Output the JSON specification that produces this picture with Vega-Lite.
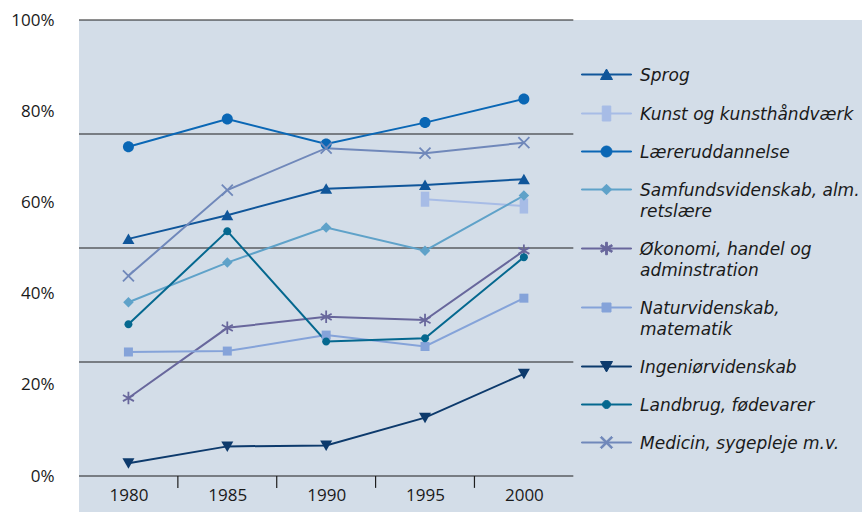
{
  "$schema": "https://vega.github.io/schema/vega-lite/v6.json",
  "width": 783,
  "height": 492,
  "autosize": "none",
  "padding": {"left": 79, "top": 20, "right": 0, "bottom": 0},
  "background": "white",
  "config": {
    "view": {"fill": "#d3dde8", "stroke": null},
    "axisX": {"offset": -36, "domain": false, "ticks": false, "grid": false, "labelPadding": 11, "labelFontSize": 17, "labelFont": "Open Sans", "labelColor": "#1a1a1a", "labelFlush": false, "labelOverlap": false},
    "axisY": {"domain": false, "ticks": false, "grid": false, "labelPadding": 25, "labelFontSize": 17, "labelFont": "Open Sans", "labelColor": "#1a1a1a", "labelFlush": false, "labelOverlap": false},
    "legend": {
      "orient": "none",
      "legendX": 519,
      "legendY": 46,
      "labelFont": "DejaVu Sans",
      "labelFontStyle": "italic",
      "labelFontSize": 17,
      "labelColor": "#1a1a1a",
      "symbolSize": 100,
      "symbolStrokeWidth": 1,
      "labelOffset": 25,
      "rowPadding": 20,
      "labelLimit": 400,
      "labelBaseline": "alphabetic"
    }
  },
  "datasets": {
    "series": [
      {"series": "Sprog", "year": 1980, "value": 52.0},
      {"series": "Sprog", "year": 1985, "value": 57.2},
      {"series": "Sprog", "year": 1990, "value": 63.0},
      {"series": "Sprog", "year": 1995, "value": 63.8},
      {"series": "Sprog", "year": 2000, "value": 65.1},
      {"series": "Kunst og kunsthåndværk", "year": 1995, "value": 60.7},
      {"series": "Kunst og kunsthåndværk", "year": 2000, "value": 59.2},
      {"series": "Læreruddannelse", "year": 1980, "value": 72.2},
      {"series": "Læreruddannelse", "year": 1985, "value": 78.3},
      {"series": "Læreruddannelse", "year": 1990, "value": 72.8},
      {"series": "Læreruddannelse", "year": 1995, "value": 77.5},
      {"series": "Læreruddannelse", "year": 2000, "value": 82.7},
      {"series": "Samfundsvidenskab, alm. retslære", "year": 1980, "value": 38.1},
      {"series": "Samfundsvidenskab, alm. retslære", "year": 1985, "value": 46.8},
      {"series": "Samfundsvidenskab, alm. retslære", "year": 1990, "value": 54.5},
      {"series": "Samfundsvidenskab, alm. retslære", "year": 1995, "value": 49.4},
      {"series": "Samfundsvidenskab, alm. retslære", "year": 2000, "value": 61.5},
      {"series": "Økonomi, handel og adminstration", "year": 1980, "value": 17.1},
      {"series": "Økonomi, handel og adminstration", "year": 1985, "value": 32.5},
      {"series": "Økonomi, handel og adminstration", "year": 1990, "value": 34.9},
      {"series": "Økonomi, handel og adminstration", "year": 1995, "value": 34.2},
      {"series": "Økonomi, handel og adminstration", "year": 2000, "value": 49.4},
      {"series": "Naturvidenskab, matematik", "year": 1980, "value": 27.2},
      {"series": "Naturvidenskab, matematik", "year": 1985, "value": 27.4},
      {"series": "Naturvidenskab, matematik", "year": 1990, "value": 30.9},
      {"series": "Naturvidenskab, matematik", "year": 1995, "value": 28.4},
      {"series": "Naturvidenskab, matematik", "year": 2000, "value": 39.0},
      {"series": "Ingeniørvidenskab", "year": 1980, "value": 2.8},
      {"series": "Ingeniørvidenskab", "year": 1985, "value": 6.5},
      {"series": "Ingeniørvidenskab", "year": 1990, "value": 6.7},
      {"series": "Ingeniørvidenskab", "year": 1995, "value": 12.8},
      {"series": "Ingeniørvidenskab", "year": 2000, "value": 22.4},
      {"series": "Landbrug, fødevarer", "year": 1980, "value": 33.3},
      {"series": "Landbrug, fødevarer", "year": 1985, "value": 53.7},
      {"series": "Landbrug, fødevarer", "year": 1990, "value": 29.5},
      {"series": "Landbrug, fødevarer", "year": 1995, "value": 30.2},
      {"series": "Landbrug, fødevarer", "year": 2000, "value": 48.0},
      {"series": "Medicin, sygepleje m.v.", "year": 1980, "value": 43.9},
      {"series": "Medicin, sygepleje m.v.", "year": 1985, "value": 62.7},
      {"series": "Medicin, sygepleje m.v.", "year": 1990, "value": 71.9},
      {"series": "Medicin, sygepleje m.v.", "year": 1995, "value": 70.8},
      {"series": "Medicin, sygepleje m.v.", "year": 2000, "value": 73.1}
    ]
  },
  "layer": [
    {
      "data": {"values": [{"level": 0}, {"level": 25}, {"level": 50}, {"level": 75}, {"level": 100}]},
      "mark": {"type": "rule", "color": "#1e1e1e", "strokeWidth": 1.2},
      "encoding": {
        "y": {"field": "level", "type": "quantitative", "title": null, "scale": {"domain": [-7.89, 100], "nice": false, "zero": false}, "axis": {"values": [0, 20, 40, 60, 80, 100], "labelExpr": "datum.value + '%'"}},
        "x": {"datum": 1977.5, "type": "quantitative", "title": null, "scale": {"domain": [1977.5, 2017.1], "nice": false, "zero": false}, "axis": {"values": [1980, 1985, 1990, 1995, 2000], "format": "d"}},
        "x2": {"datum": 2002.5}
      }
    },
    {
      "data": {"values": [{"boundary": 1982.5}, {"boundary": 1987.5}, {"boundary": 1992.5}, {"boundary": 1997.5}]},
      "mark": {"type": "rule", "color": "#1e1e1e", "strokeWidth": 1.2},
      "encoding": {
        "x": {"field": "boundary", "type": "quantitative", "title": null},
        "y": {"datum": 0, "type": "quantitative", "title": null},
        "y2": {"datum": -2.6}
      }
    },
    {
      "data": {"name": "series"},
      "mark": {"type": "line", "strokeWidth": 2},
      "encoding": {
        "x": {"field": "year", "type": "quantitative", "title": null},
        "y": {"field": "value", "type": "quantitative", "title": null},
        "color": {
          "field": "series", "type": "nominal", "title": null,
          "scale": {
            "domain": ["Sprog", "Kunst og kunsthåndværk", "Læreruddannelse", "Samfundsvidenskab, alm. retslære", "Økonomi, handel og adminstration", "Naturvidenskab, matematik", "Ingeniørvidenskab", "Landbrug, fødevarer", "Medicin, sygepleje m.v."],
            "range": ["#10569a", "#a7bce6", "#0a67b5", "#5fa2c9", "#68679c", "#85a3d9", "#0d3a6c", "#05688f", "#7088ba"]
          },
          "legend": {
            "labelExpr": "datum.label == 'Samfundsvidenskab, alm. retslære' ? ['Samfundsvidenskab, alm.', 'retslære'] : datum.label == 'Økonomi, handel og adminstration' ? ['Økonomi, handel og', 'adminstration'] : datum.label == 'Naturvidenskab, matematik' ? ['Naturvidenskab,', 'matematik'] : datum.label",
            "encode": {"labels": {"update": {"dy": {"value": 6}, "lineHeight": {"value": 21}}}}
          }
        }
      }
    },
    {
      "data": {"name": "series"},
      "mark": {"type": "point", "filled": true, "size": 100, "opacity": 1, "strokeWidth": 0, "shape": {"expr": "replace(scale('shape', datum.series), 'M-5,-0.1L5,-0.1L5,0.1L-5,0.1Z', '')"}},
      "encoding": {
        "x": {"field": "year", "type": "quantitative", "title": null},
        "y": {"field": "value", "type": "quantitative", "title": null},
        "color": {
          "field": "series", "type": "nominal", "title": null,
          "legend": {
            "labelExpr": "datum.label == 'Samfundsvidenskab, alm. retslære' ? ['Samfundsvidenskab, alm.', 'retslære'] : datum.label == 'Økonomi, handel og adminstration' ? ['Økonomi, handel og', 'adminstration'] : datum.label == 'Naturvidenskab, matematik' ? ['Naturvidenskab,', 'matematik'] : datum.label",
            "encode": {"labels": {"update": {"dy": {"value": 6}, "lineHeight": {"value": 21}}}}
          }
        }
      }
    },
    {
      "data": {"name": "series"},
      "transform": [{"filter": "false"}],
      "mark": {"type": "point", "filled": true, "size": 100, "opacity": 1, "strokeWidth": 0},
      "encoding": {
        "x": {"field": "year", "type": "quantitative", "title": null},
        "y": {"field": "value", "type": "quantitative", "title": null},
        "color": {
          "field": "series", "type": "nominal", "title": null,
          "legend": {
            "labelExpr": "datum.label == 'Samfundsvidenskab, alm. retslære' ? ['Samfundsvidenskab, alm.', 'retslære'] : datum.label == 'Økonomi, handel og adminstration' ? ['Økonomi, handel og', 'adminstration'] : datum.label == 'Naturvidenskab, matematik' ? ['Naturvidenskab,', 'matematik'] : datum.label",
            "encode": {"labels": {"update": {"dy": {"value": 6}, "lineHeight": {"value": 21}}}}
          }
        },
        "shape": {
          "field": "series", "type": "nominal", "title": null,
          "scale": {
            "domain": ["Sprog", "Kunst og kunsthåndværk", "Læreruddannelse", "Samfundsvidenskab, alm. retslære", "Økonomi, handel og adminstration", "Naturvidenskab, matematik", "Ingeniørvidenskab", "Landbrug, fødevarer", "Medicin, sygepleje m.v."],
            "range": [
              "M-5,-0.1L5,-0.1L5,0.1L-5,0.1ZM-1.2,1L0,-1.1L1.2,1Z",
              "M-5,-0.1L5,-0.1L5,0.1L-5,0.1ZM-0.85,-1.5L0.85,-1.5L0.85,1.5L-0.85,1.5Z",
              "M-5,-0.1L5,-0.1L5,0.1L-5,0.1ZM1.1,0C1.1,0.607,0.607,1.1,0,1.1C-0.607,1.1,-1.1,0.607,-1.1,0C-1.1,-0.607,-0.607,-1.1,0,-1.1C0.607,-1.1,1.1,-0.607,1.1,0Z",
              "M-5,-0.1L5,-0.1L5,0.1L-5,0.1ZM0,-1.05L1.05,0L0,1.05L-1.05,0Z",
              "M-5,-0.1L5,-0.1L5,0.1L-5,0.1ZM-0.18,-1.25L0.18,-1.25L0.18,1.25L-0.18,1.25ZM-1.0116,-0.7768L1.1884,0.4632L1.0116,0.7768L-1.1884,-0.4632ZM-1.1884,0.4632L1.0116,-0.7768L1.1884,-0.4632L-1.0116,0.7768Z",
              "M-5,-0.1L5,-0.1L5,0.1L-5,0.1ZM-0.9,-0.9L0.9,-0.9L0.9,0.9L-0.9,0.9Z",
              "M-5,-0.1L5,-0.1L5,0.1L-5,0.1ZM1.2,-1L0,1.1L-1.2,-1Z",
              "M-5,-0.1L5,-0.1L5,0.1L-5,0.1ZM0.8,0C0.8,0.442,0.442,0.8,0,0.8C-0.442,0.8,-0.8,0.442,-0.8,0C-0.8,-0.442,-0.442,-0.8,0,-0.8C0.442,-0.8,0.8,-0.442,0.8,0Z",
              "M-5,-0.1L5,-0.1L5,0.1L-5,0.1ZM-0.9727,-1.2273L1.2273,0.9727L0.9727,1.2273L-1.2273,-0.9727ZM-1.2273,0.9727L0.9727,-1.2273L1.2273,-0.9727L-0.9727,1.2273Z"
            ]
          },
          "legend": {
            "labelExpr": "datum.label == 'Samfundsvidenskab, alm. retslære' ? ['Samfundsvidenskab, alm.', 'retslære'] : datum.label == 'Økonomi, handel og adminstration' ? ['Økonomi, handel og', 'adminstration'] : datum.label == 'Naturvidenskab, matematik' ? ['Naturvidenskab,', 'matematik'] : datum.label",
            "encode": {"labels": {"update": {"dy": {"value": 6}, "lineHeight": {"value": 21}}}}
          }
        }
      }
    }
  ]
}
